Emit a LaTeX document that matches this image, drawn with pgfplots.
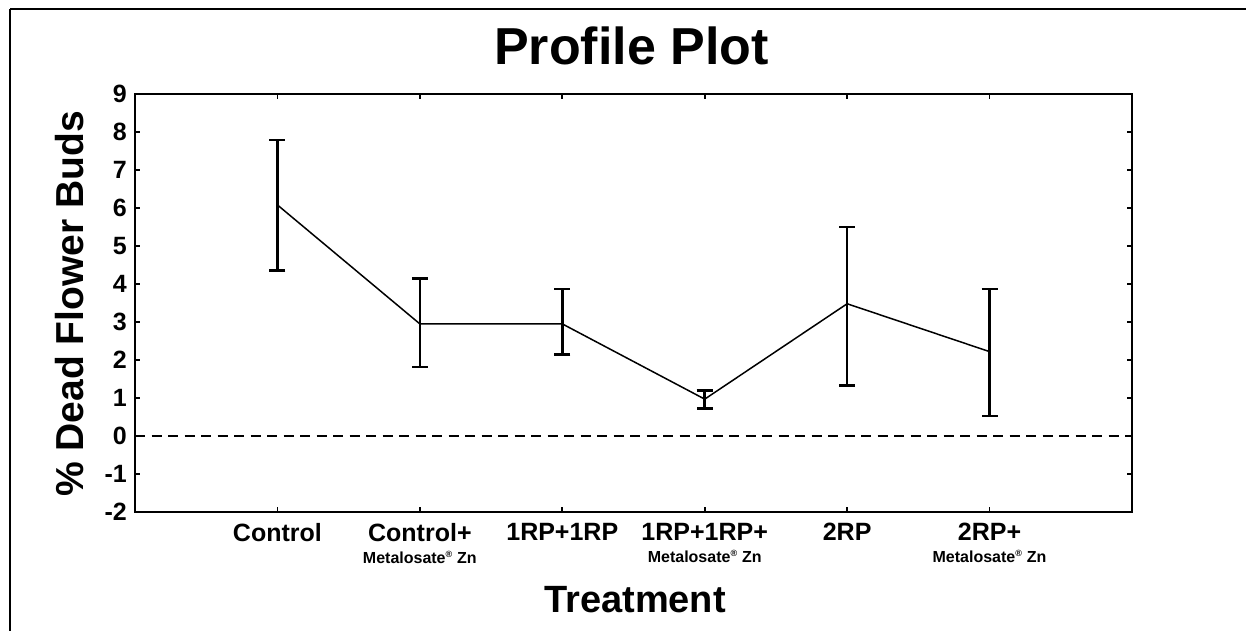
\documentclass[border=0pt]{standalone}
\usepackage{fontspec}
\setmainfont{Liberation Sans}
\usepackage{graphicx}
\usepackage{pgfplots}
\pgfplotsset{compat=1.18}
\usepackage{pgfplotstable}

\pgfplotstableread{
x  y     ep    em
0  6.08  1.71  1.73
1  2.95  1.20  1.13
2  2.95  0.92  0.80
3  0.97  0.23  0.24
4  3.48  2.02  2.15
5  2.22  1.65  1.69
}\profiledata

\newcommand{\subl}{\fontsize{16}{22}\selectfont\bfseries Metalosate\textsuperscript{\fontsize{9}{9}\selectfont®} Zn}

\begin{document}
\begin{tikzpicture}[x=1pt,y=1pt]
\useasboundingbox (0,0) rectangle (1246,631);
% outer frame (top and left)
\draw[line width=2.4pt] (10,622) -- (1246,622);
\draw[line width=1.5pt] (10,622) -- (10,0);
% title and axis labels
\node[anchor=base, inner sep=0pt, font=\fontsize{52}{52}\selectfont\bfseries] at (631.5,566) {Profile Plot};
\node[anchor=base, inner sep=0pt, rotate=90, font=\fontsize{39}{39}\selectfont\bfseries] at (83,327) {\% Dead Flower Buds};
\node[anchor=base, inner sep=0pt, font=\fontsize{38}{38}\selectfont\bfseries] at (635,18) {Treatment};
\begin{axis}[
  at={(135pt,119pt)}, anchor=south west,
  scale only axis, width=997pt, height=418pt,
  xmin=-1, xmax=6, ymin=-2, ymax=9,
  xtick={0,1,2,3,4,5},
  xticklabels={
    {Control\\ \phantom{M}},
    {Control+\\ \subl},
    {1RP+1RP\\ \phantom{M}},
    {1RP+1RP+\\ \subl},
    {2RP\\ \phantom{M}},
    {2RP+\\ \subl}},
  ytick={-2,-1,0,1,2,3,4,5,6,7,8,9},
  yticklabels={-2,-1,0,1,2,3,4,5,6,7,8,9},
  tick pos=both, tick align=inside,
  major tick length=5pt,
  every tick/.style={black, line width=1.6pt},
  axis line style={line width=2.3pt},
  xticklabel style={align=center, inner sep=0pt, yshift=-11pt, font=\fontsize{25}{22}\selectfont\bfseries},
  yticklabel style={inner sep=0pt, xshift=-8pt, font=\fontsize{25}{25}\selectfont\bfseries},
  clip=false,
]
\addplot[black, line width=2.6pt, dash pattern=on 10pt off 6.5pt, forget plot] coordinates {(-1,0) (6,0)};
\addplot[black, line width=1.5pt, mark=none,
  error bars/.cd, y dir=both, y explicit,
  error bar style={line width=2.6pt},
  error mark options={rotate=90, mark size=8pt, line width=2.6pt}]
  table[x=x, y=y, y error plus=ep, y error minus=em] {\profiledata};
\end{axis}
\end{tikzpicture}
\end{document}
